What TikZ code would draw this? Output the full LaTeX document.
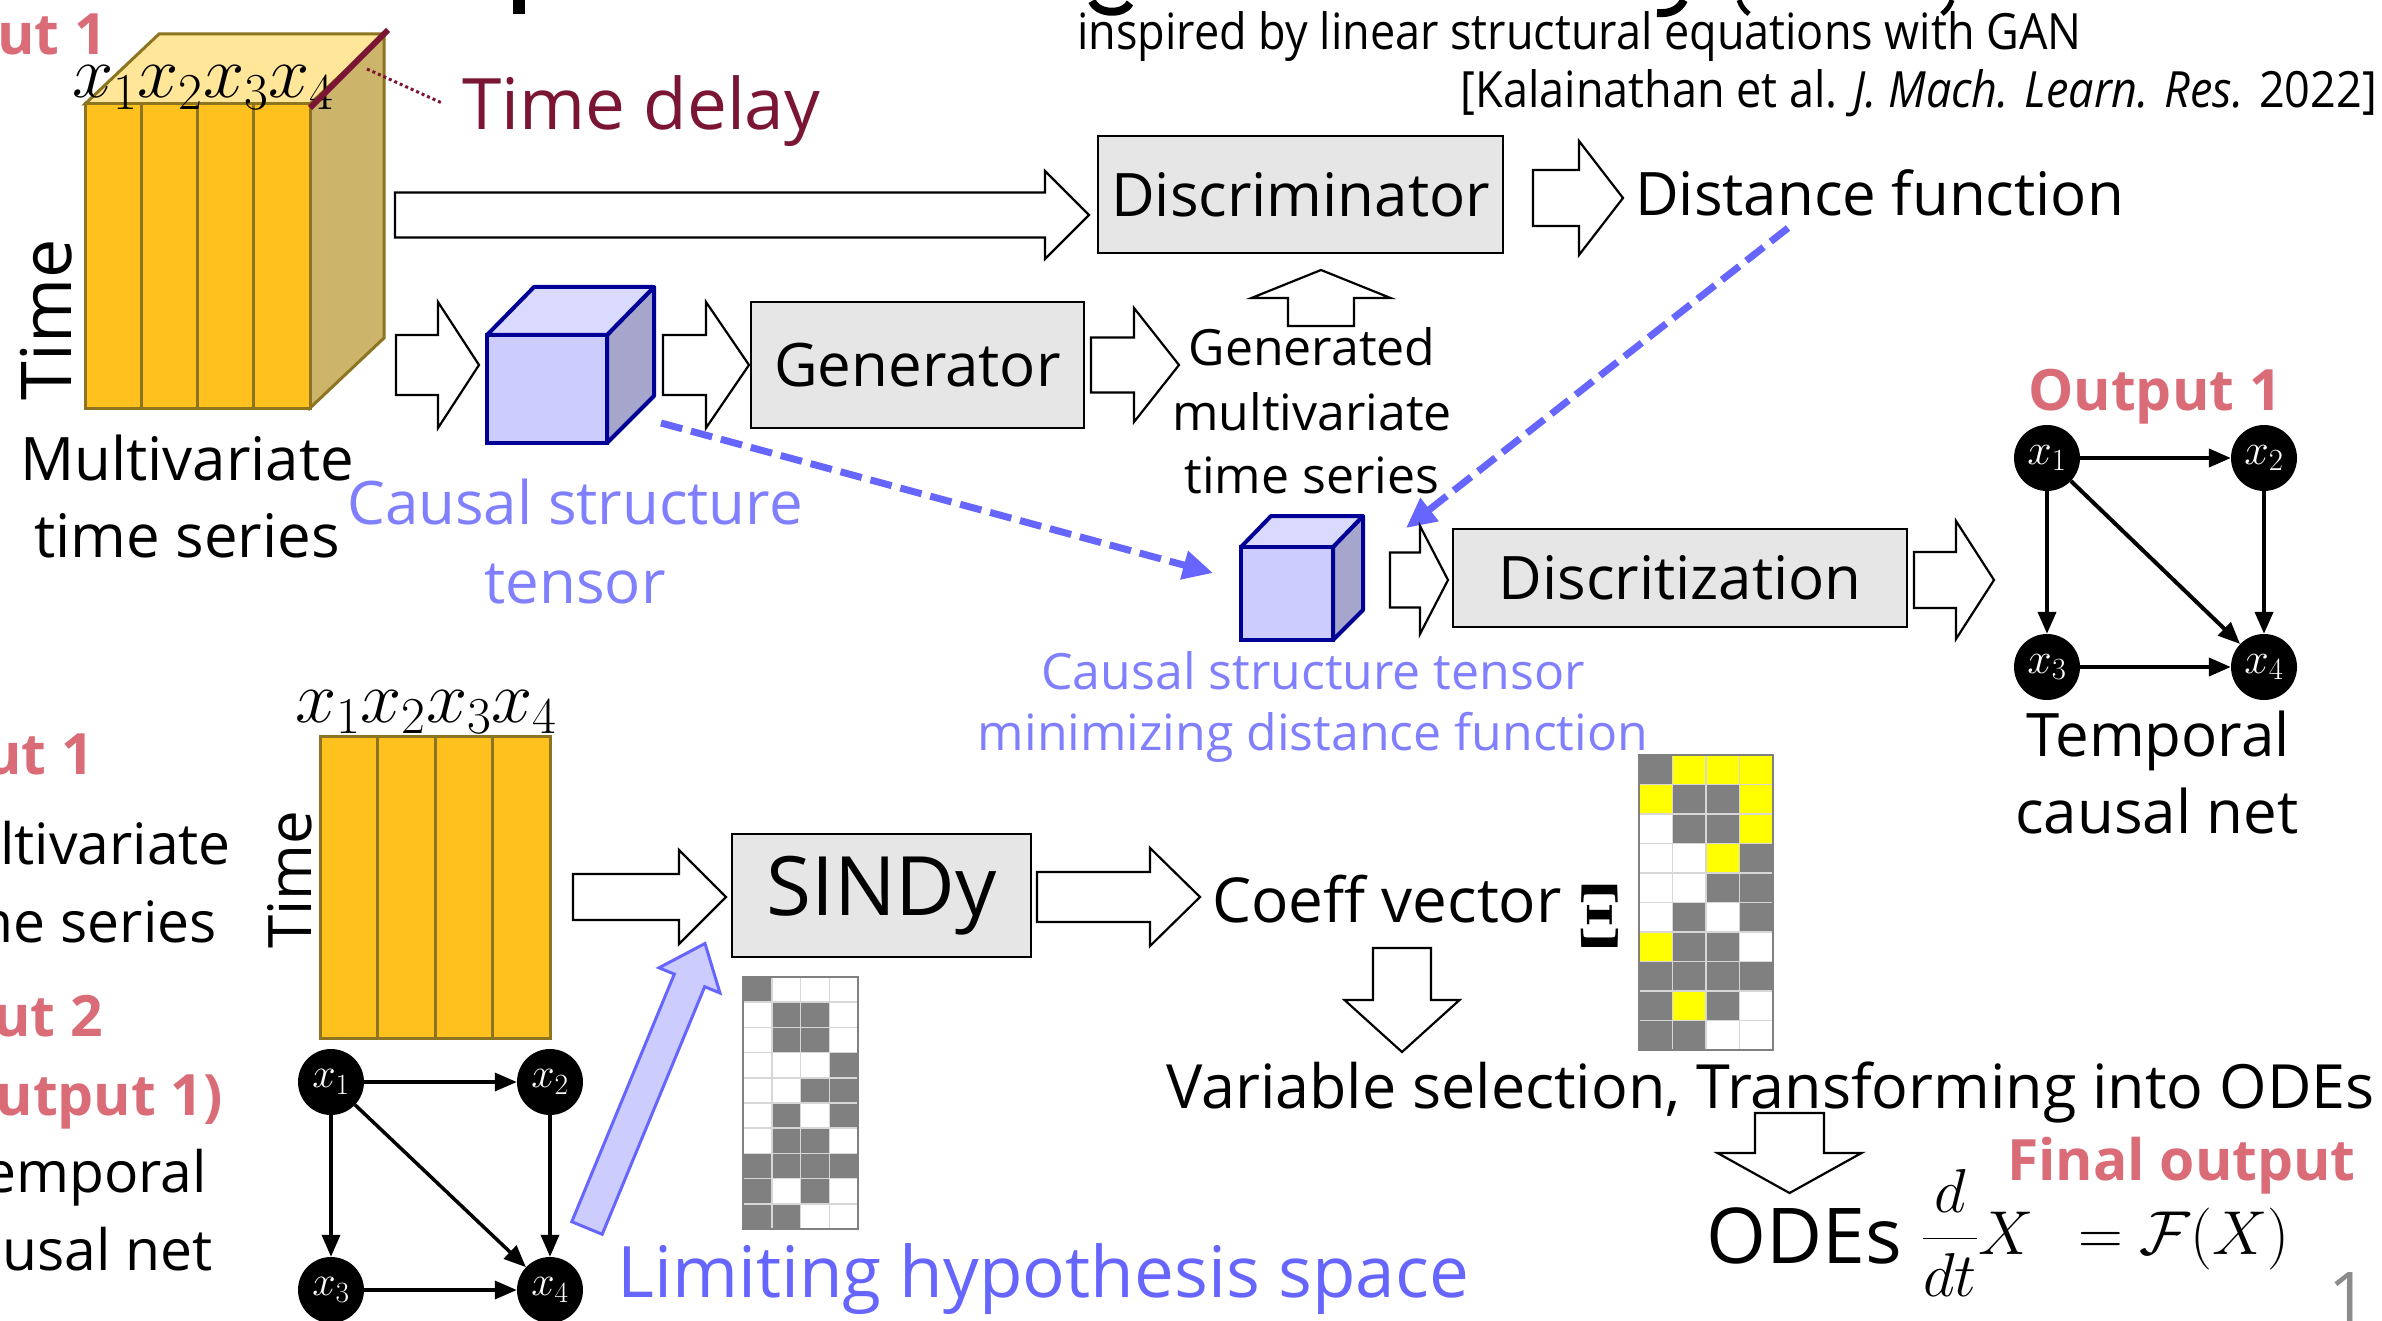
\RequirePackage{fix-cm}
\documentclass[tikz,border=0pt]{standalone}
\usepackage[no-math]{fontspec}
\setmainfont{Open Sans}
\usetikzlibrary{arrows.meta}

\definecolor{gold}{RGB}{255,193,30}
\definecolor{goldedge}{RGB}{140,116,32}
\definecolor{goldtop}{RGB}{255,230,153}
\definecolor{goldside}{RGB}{204,180,106}
\definecolor{delaycol}{RGB}{122,22,52}
\definecolor{pinkred}{RGB}{218,108,120}
\definecolor{tensorblue}{RGB}{128,128,255}
\definecolor{dashblue}{RGB}{102,102,255}
\definecolor{cubefront}{RGB}{204,204,255}
\definecolor{cubetop}{RGB}{218,218,255}
\definecolor{cubeside}{RGB}{166,166,204}
\definecolor{cubeedge}{RGB}{0,0,150}
\definecolor{boxgray}{RGB}{230,230,230}
\definecolor{cellg}{RGB}{128,128,128}
\definecolor{celly}{RGB}{255,255,0}
\definecolor{cellw}{RGB}{255,255,255}
\definecolor{gridc}{RGB}{215,215,215}
\definecolor{numgray}{RGB}{140,140,140}

% block arrow pointing right: tail x, head start x, tip x, centre y, shaft half, head half
\newcommand\rblock[6]{%
  \draw[hollow] (#1,#4-#5) -- (#2,#4-#5) -- (#2,#4-#6) -- (#3,#4) -- (#2,#4+#6)
    -- (#2,#4+#5) -- (#1,#4+#5) -- cycle;}
% block arrow along y: centre x, tail y, head base y, tip y, shaft half, head half
\newcommand\vblock[6]{%
  \draw[hollow] (#1-#5,#2) -- (#1-#5,#3) -- (#1-#6,#3) -- (#1,#4) -- (#1+#6,#3)
    -- (#1+#5,#3) -- (#1+#5,#2) -- cycle;}

\begin{document}
\begin{tikzpicture}[x=1pt,y=-1pt,
  every node/.style={inner sep=0pt},
  hollow/.style={draw=black, fill=white, line width=2.2pt, line join=miter},
  procbox/.style={draw=black, fill=boxgray, line width=2.6pt, font=\fontsize{60}{72}\selectfont},
  txt/.style={font=\fontsize{60}{72}\selectfont},
  txtleft/.style={font=\fontsize{57}{68}\selectfont},
  txtsmall/.style={font=\fontsize{50}{60}\selectfont},
  redlbl/.style={font=\fontsize{57}{68}\selectfont\bfseries, text=pinkred},
  gnode/.style={circle, fill=black, minimum size=66pt, text=white, font=\fontsize{44}{44}\selectfont},
  gedge/.style={line width=4pt, -{Triangle[length=22pt,width=18pt]}},
  dashedge/.style={draw=dashblue, line width=7pt, dash pattern=on 22pt off 9pt,
    -{Triangle[length=30pt,width=28pt]}},
  colline/.style={draw=goldedge, line width=3pt},
  cubeline/.style={draw=cubeedge, line width=4pt, line join=round}
]
\useasboundingbox (0,0) rectangle (2382,1321);
\clip (0,0) rectangle (2382,1321);
\fill[white] (0,0) rectangle (2382,1321);

% descenders of the heading line above
\fill (513,0) rectangle (525,14);
\draw[line width=8pt] (1092,1) .. controls (1098,15) and (1124,15) .. (1130,3);
\draw[line width=8pt] (1684,0) .. controls (1679,10) and (1670,14) .. (1657,13);
\draw[line width=5pt] (1739,0) .. controls (1741,6) and (1744,10) .. (1749,14);
\draw[line width=5pt] (1952,0) .. controls (1950,6) and (1947,10) .. (1942,14);

% ---------- input tensor (top) ----------
\filldraw[fill=goldside, colline] (310,104) -- (384,34) -- (384,338) -- (310,408) -- cycle;
\filldraw[fill=goldtop, colline] (85,104) -- (159,34) -- (384,34) -- (310,104) -- cycle;
\foreach \k in {0,1,2,3}
  \filldraw[fill=gold, colline] ({85+\k*56.25},104) rectangle ++(56.25,304);
\node[font=\fontsize{74}{74}\selectfont, anchor=base] (xlabTop) at (203,98) {$x_1x_2x_3x_4$};
\draw[delaycol, line width=6pt] (310,108) -- (388,30);
\draw[delaycol, line width=3pt, dash pattern=on 3pt off 3pt] (367,69) -- (442,103);
\node[font=\fontsize{71}{80}\selectfont, text=delaycol, anchor=base west] (delay) at (462,130) {Time delay};
\node[font=\fontsize{70}{70}\selectfont, rotate=90] (timeTop) at (46,320) {Time};
\node[redlbl, anchor=base east] (inTop) at (107,55) {Input 1};
\node[txt, anchor=base] (mvA) at (187,480) {Multivariate};
\node[txt, anchor=base] (mvB) at (187,557) {time series};

% ---------- GAN row ----------
\rblock{395}{1045}{1089}{215}{22.5}{44}
\node[procbox, minimum width=405pt, minimum height=117pt] (disc) at (1300.5,194.5) {Discriminator};
\rblock{1533}{1579}{1623}{198}{28}{57}
\node[txt, anchor=base west] (dist) at (1635,216) {Distance function};

\node[font=\fontsize{50}{60}\selectfont, anchor=base west] (citeA) at (1077,50)
  {\scalebox{0.9}[1]{inspired by linear structural equations with GAN}};
\node[font=\fontsize{50}{60}\selectfont, anchor=base east] (citeB) at (2377,108)
  {\scalebox{0.9}[1]{[Kalainathan et al. \textit{J. Mach. Learn. Res.} 2022]}};

\rblock{396}{438}{479}{365}{30}{63}
% causal structure tensor (cube)
\filldraw[fill=cubeside, cubeline] (607,335) -- (654,287) -- (654,396) -- (607,443) -- cycle;
\filldraw[fill=cubetop, cubeline] (487,335) -- (534,287) -- (654,287) -- (607,335) -- cycle;
\node[draw=cubeedge, line width=4pt, fill=cubefront, minimum width=120pt, minimum height=108pt] (cubeA) at (547,389) {};
\node[txt, text=tensorblue, anchor=base] (cstA) at (575,524) {Causal structure};
\node[txt, text=tensorblue, anchor=base] (cstB) at (575,603) {tensor};

\rblock{663}{706}{749}{365}{30}{63}
\node[procbox, minimum width=333pt, minimum height=126pt] (gen) at (917.5,365) {Generator};
\rblock{1091}{1134}{1179}{365}{27.5}{57}
\node[txtsmall, anchor=base] (genA) at (1312,366) {Generated};
\node[txtsmall, anchor=base] (genB) at (1312,430) {multivariate};
\node[txtsmall, anchor=base] (genC) at (1312,493) {time series};
\vblock{1321}{326}{298}{270}{33}{69.5}

% optimised tensor (small cube)
\filldraw[fill=cubeside, cubeline] (1333,547) -- (1363,516) -- (1363,610) -- (1333,640) -- cycle;
\filldraw[fill=cubetop, cubeline] (1241,547) -- (1271,516) -- (1363,516) -- (1333,547) -- cycle;
\node[draw=cubeedge, line width=4pt, fill=cubefront, minimum width=92pt, minimum height=93pt] (cubeB) at (1287,593.5) {};
\node[txtsmall, text=tensorblue, anchor=base] (cstC) at (1313,689) {Causal structure tensor};
\node[txtsmall, text=tensorblue, anchor=base] (cstD) at (1313,750) {minimizing distance function};

\coordinate (distFoot) at (1788,228);
\coordinate (cubeBin) at (1406,528);
\coordinate (cubeAout) at (661,423);
\coordinate (cubeBleft) at (1213,573);
\draw[dashedge] (distFoot) -- (cubeBin);
\draw[dashedge] (cubeAout) -- (cubeBleft);

\rblock{1390}{1420}{1448}{580}{27.5}{54}
\node[procbox, minimum width=454pt, minimum height=98pt] (discr) at (1680,578) {Discritization};
\rblock{1914}{1956}{1994}{580}{28}{59}

% ---------- output 1: temporal causal net ----------
\node[redlbl, anchor=base] (out1) at (2155,410) {Output 1};
\node[gnode] (a1) at (2047,458) {$x_1$};
\node[gnode] (a2) at (2264,458) {$x_2$};
\node[gnode] (a3) at (2047,667) {$x_3$};
\node[gnode] (a4) at (2264,667) {$x_4$};
\draw[gedge] (a1) -- (a2);
\draw[gedge] (a1) -- (a3);
\draw[gedge] (a1) -- (a4);
\draw[gedge] (a2) -- (a4);
\draw[gedge] (a3) -- (a4);
\node[txt, anchor=base] (tcnA) at (2158,756) {Temporal};
\node[txt, anchor=base] (tcnB) at (2157,833) {causal net};

% ---------- SINDy part ----------
\node[redlbl, anchor=base east] (in1) at (94,774) {Input 1};
\node[txtleft, anchor=base east] (mvC) at (231,864) {Multivariate};
\node[txtleft, anchor=base east] (mvD) at (217,942) {time series};
\node[redlbl, anchor=base east] (in2) at (103,1036) {Input 2};
\node[redlbl, anchor=base east] (in2b) at (223,1115) {(Output 1)};
\node[txtleft, anchor=base east] (tcnC) at (207,1192) {Temporal};
\node[txtleft, anchor=base east] (tcnD) at (213,1270) {causal net};

\foreach \k in {0,1,2,3}
  \filldraw[fill=gold, colline] ({320+\k*57.5},736) rectangle ++(57.5,302);
\node[font=\fontsize{74}{74}\selectfont, anchor=base] (xlabBot) at (426,722) {$x_1x_2x_3x_4$};
\node[txt, rotate=90] (timeBot) at (290,880) {Time};

\node[gnode, font=\fontsize{42}{42}\selectfont] (b1) at (331,1082) {$x_1$};
\node[gnode, font=\fontsize{42}{42}\selectfont] (b2) at (550,1082) {$x_2$};
\node[gnode, font=\fontsize{42}{42}\selectfont] (b3) at (331,1290) {$x_3$};
\node[gnode, font=\fontsize{42}{42}\selectfont] (b4) at (550,1290) {$x_4$};
\draw[gedge, line width=3.5pt] (b1) -- (b2);
\draw[gedge, line width=3.5pt] (b1) -- (b3);
\draw[gedge, line width=3.5pt] (b1) -- (b4);
\draw[gedge, line width=3.5pt] (b2) -- (b4);
\draw[gedge, line width=3.5pt] (b3) -- (b4);

\rblock{573}{679}{726}{897}{23}{47}
\node[procbox, font=\fontsize{82}{90}\selectfont, minimum width=299pt, minimum height=123pt] (sindy) at (881.5,895.5) {SINDy};

% hypothesis space mask
\foreach \row [count=\r from 0] in {{g,w,w,w},{w,g,g,w},{w,g,g,w},{w,w,w,g},{w,w,g,g},{w,g,w,g},{w,g,g,w},{g,g,g,g},{g,w,g,w},{g,g,w,w}}{
  \foreach \c [count=\k from 0] in \row
    \fill[fill=cell\c] ({743+\k*28.75},{977+\r*25.2}) rectangle ++(28.75,25.2);
}
\foreach \k in {1,2,3} \draw[gridc, line width=1.5pt] ({743+\k*28.75},977) -- ++(0,252);
\foreach \r in {1,...,9} \draw[gridc, line width=1.5pt] (743,{977+\r*25.2}) -- ++(115,0);
\draw[gray, line width=1.5pt] (743,977) rectangle (858,1229);

% limiting arrow
\filldraw[fill=cubefront, draw=dashblue, line width=3pt, line join=miter]
  (571.8,1221.7) -- (674.3,974.1) -- (659,967.8) -- (705,943.5) -- (720,993) -- (704.7,986.7) -- (602.2,1234.3) -- cycle;
\node[font=\fontsize{71}{80}\selectfont, text=dashblue, anchor=base west] (limit) at (617,1297) {Limiting hypothesis space};

\rblock{1037}{1150}{1200}{897}{25}{49}
\node[font=\fontsize{62}{72}\selectfont, anchor=base west] (coeff) at (1212,922) {Coeff vector};
\node[font=\fontsize{92}{92}\selectfont, anchor=base] (xi) at (1600,947) {\scalebox{0.62}[1]{$\mathbf{\Xi}$}};

% coefficient matrix
\foreach \row [count=\r from 0] in {{g,y,y,y},{y,g,g,y},{w,g,g,y},{w,w,y,g},{w,w,g,g},{w,g,w,g},{y,g,g,w},{g,g,g,g},{g,y,g,w},{g,g,w,w}}{
  \foreach \c [count=\k from 0] in \row
    \fill[fill=cell\c] ({1639+\k*33.5},{755+\r*29.5}) rectangle ++(33.5,29.5);
}
\foreach \k in {1,2,3} \draw[gridc, line width=1.5pt] ({1639+\k*33.5},755) -- ++(0,295);
\foreach \r in {1,...,9} \draw[gridc, line width=1.5pt] (1639,{755+\r*29.5}) -- ++(134,0);
\draw[gray, line width=1.5pt] (1639,755) rectangle (1773,1050);

\vblock{1402}{948}{1000}{1052}{29}{57.5}
\node[font=\fontsize{61}{72}\selectfont, anchor=base west] (varsel) at (1166,1108) {Variable selection, Transforming into ODEs};
\vblock{1789.5}{1113}{1153}{1193}{34.5}{72}
\node[font=\fontsize{77}{84}\selectfont, anchor=base west] (odes) at (1706,1263) {ODEs};
\node[font=\fontsize{62}{62}\selectfont, anchor=base west] (ode) at (1922,1254) {$\displaystyle\frac{d}{dt}X\;\,=\mathcal{F}(X)$};
\node[redlbl, anchor=base west] (final) at (2007,1180) {Final output};
\node[font=\fontsize{70}{70}\selectfont, text=numgray, anchor=base west] (pnum) at (2328,1322) {1};
\end{tikzpicture}
\end{document}
